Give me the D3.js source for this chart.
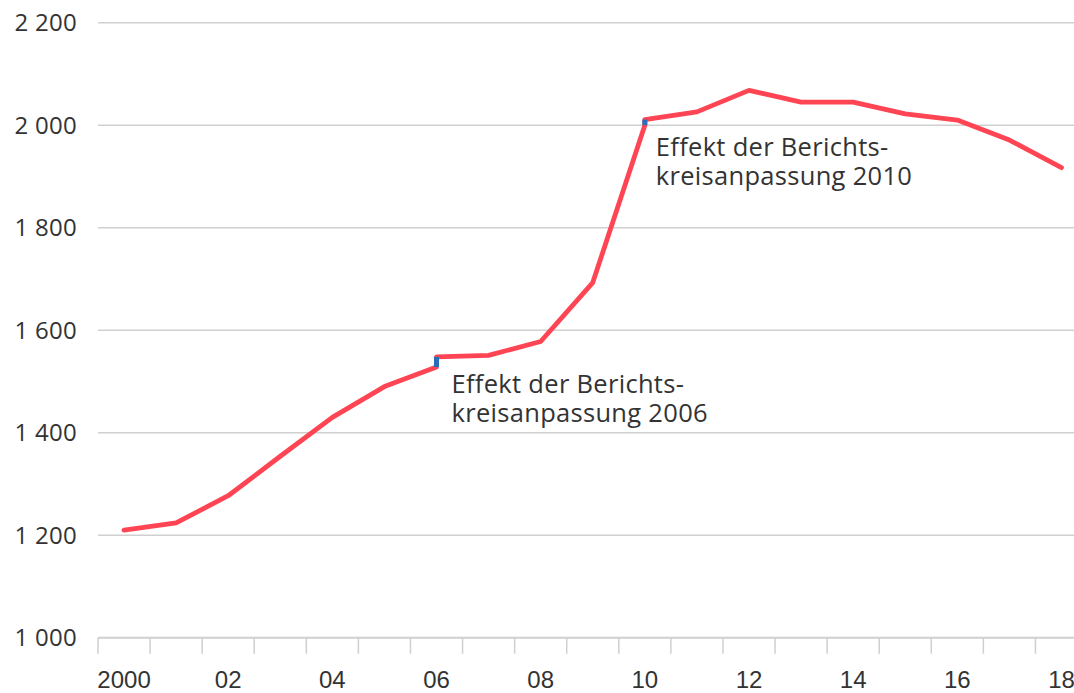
<!DOCTYPE html>
<html>
<head>
<meta charset="utf-8">
<script src="https://cdn.jsdelivr.net/npm/d3@7"></script>
<style>
  html, body { margin: 0; padding: 0; background: #fff; }
  svg { display: block; font-family: "Open Sans", "Noto Sans", sans-serif; }
</style>
</head>
<body>
<svg id="chart" width="1074" height="693"></svg>
<script>
// ---- data ----
const years = [2000, 2001, 2002, 2003, 2004, 2005, 2006, 2007, 2008, 2009,
               2010, 2011, 2012, 2013, 2014, 2015, 2016, 2017, 2018];
const values = [1210, 1224, 1277, 1354, 1430, 1490, 1548, 1551, 1578, 1693,
                2011, 2026, 2068, 2045, 2045, 2022, 2010, 1971, 1917];
// breaks: value on old basis before the reporting-entity adjustment
const breakYears = [2006, 2010];
const breakBefore = [1528, 2000];
const yTicks = [1000, 1200, 1400, 1600, 1800, 2000, 2200];
const xTickYears = [2000, 2002, 2004, 2006, 2008, 2010, 2012, 2014, 2016, 2018];
const xTickLabels = ["2000", "02", "04", "06", "08", "10", "12", "14", "16", "18"];
const annotations = [
  { year: 2006, lines: ["Effekt der Berichts-", "kreisanpassung 2006"] },
  { year: 2010, lines: ["Effekt der Berichts-", "kreisanpassung 2010"] }
];

// ---- layout ----
const svg = d3.select("#chart");
const W = 1074, H = 693;
const left = 98, bandW = 52.08;
const x = d3.scaleBand().domain(years).range([left, left + years.length * bandW]).padding(0);
const y = d3.scaleLinear().domain([1000, 2200]).range([637.7, 22.7]);
const cx = yr => x(yr) + x.bandwidth() / 2;

const loc = d3.formatLocale({ decimal: ",", thousands: "\u00a0", grouping: [3], currency: ["", "€"] });
const fmt = loc.format(",");

// gridlines
svg.append("g").selectAll("line")
  .data(yTicks.filter(d => d > 1000))
  .join("line")
  .attr("x1", left).attr("x2", W)
  .attr("y1", d => y(d)).attr("y2", d => y(d))
  .attr("stroke", "#d0d0d0").attr("stroke-width", 1.5);

// y labels
svg.append("g").selectAll("text")
  .data(yTicks)
  .join("text")
  .attr("x", 77).attr("y", d => y(d))
  .attr("dy", "0.36em")
  .attr("text-anchor", "end")
  .attr("font-size", 24)
  .attr("letter-spacing", 0.3)
  .attr("fill", "#333")
  .text(d => fmt(d));

// x axis
const xAxis = d3.axisBottom(x).tickSize(0).tickFormat("");
const gx = svg.append("g").attr("transform", `translate(0,${y(1000)})`).call(xAxis);
gx.select(".domain").attr("stroke", "#cfcfcf").attr("stroke-width", 2)
  .attr("d", `M${left},0H${W}`);
// tick marks at band boundaries
const boundaries = years.map(d => x(d)).concat([x(years[years.length - 1]) + bandW]);
gx.selectAll(".bnd").data(boundaries).join("line")
  .attr("class", "bnd")
  .attr("x1", d => d).attr("x2", d => d)
  .attr("y1", 0).attr("y2", 16)
  .attr("stroke", "#cfcfcf").attr("stroke-width", 1.5);
gx.selectAll(".xl").data(xTickYears).join("text")
  .attr("class", "xl")
  .attr("x", d => cx(d)).attr("y", 50)
  .attr("text-anchor", "middle")
  .attr("font-size", 24)
  .attr("fill", "#333")
  .text((d, i) => xTickLabels[i]);

// line points, with both bases at break years
const pts = [];
years.forEach((yr, i) => {
  const bi = breakYears.indexOf(yr);
  if (bi >= 0) pts.push([cx(yr), y(breakBefore[bi])]);
  pts.push([cx(yr), y(values[i])]);
});
svg.append("path")
  .attr("d", d3.line()(pts))
  .attr("fill", "none")
  .attr("stroke", "#ff4553")
  .attr("stroke-width", 4.8)
  .attr("stroke-linejoin", "round")
  .attr("stroke-linecap", "round");

// blue break segments
svg.append("g").selectAll("line")
  .data(breakYears)
  .join("line")
  .attr("x1", d => cx(d)).attr("x2", d => cx(d))
  .attr("y1", (d, i) => y(breakBefore[i]))
  .attr("y2", d => y(values[years.indexOf(d)]))
  .attr("stroke", "#2a6db8")
  .attr("stroke-width", 5);

// annotations
const annDx = { 2006: 15, 2010: 11 };
annotations.forEach(a => {
  const v = values[years.indexOf(a.year)];
  const t = svg.append("text")
    .attr("font-size", 25.5)
    .attr("letter-spacing", 0.3)
    .attr("fill", "#333");
  a.lines.forEach((ln, k) => {
    t.append("tspan")
      .attr("x", cx(a.year) + annDx[a.year])
      .attr("y", y(v) + 36 + k * 29)
      .text(ln);
  });
});
</script>
</body>
</html>
